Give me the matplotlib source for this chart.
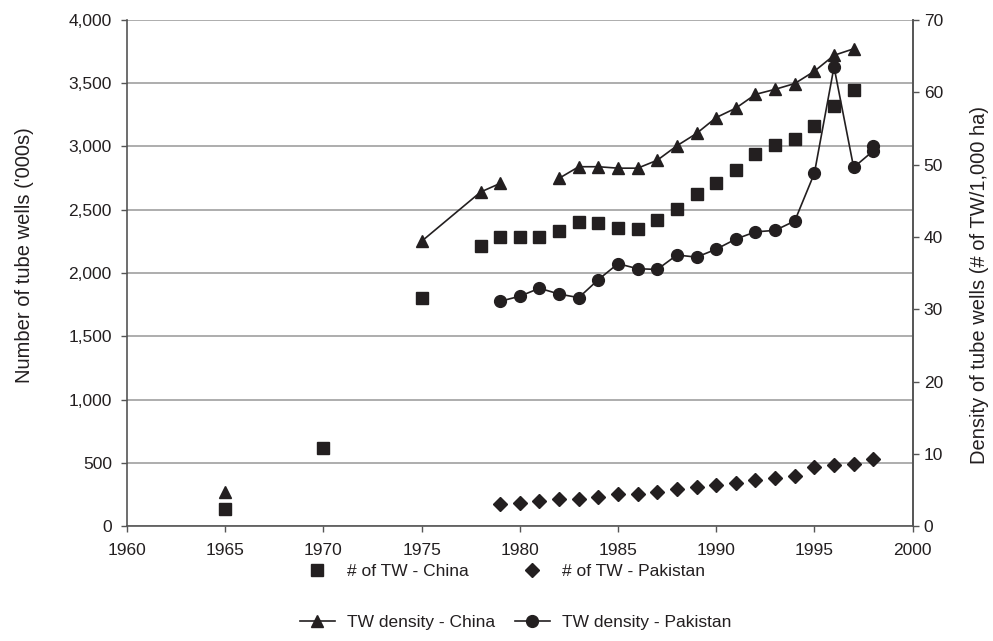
import numpy as np
import matplotlib
matplotlib.use("Agg")
import matplotlib.pyplot as plt
from matplotlib.lines import Line2D

plt.rcParams["font.family"] = ["Liberation Sans", "DejaVu Sans"]
plt.rcParams["font.size"] = 12.5

# Number of tube wells ('000s), China
china_tw_years = [1965, 1970, 1975, 1978, 1979, 1980, 1981, 1982, 1983, 1984, 1985, 1986,
                  1987, 1988, 1989, 1990, 1991, 1992, 1993, 1994, 1995, 1996, 1997]
china_tw = [140, 622, 1806, 2212, 2283, 2283, 2288, 2330, 2401, 2393, 2359, 2351,
            2419, 2509, 2621, 2715, 2818, 2944, 3009, 3057, 3160, 3318, 3444]

# Number of tube wells ('000s), Pakistan
pak_tw_years = list(range(1979, 1999))
pak_tw = [174, 187, 203, 213, 216, 232, 255, 258, 271, 298, 313, 329, 342, 363, 385,
          397, 468, 482, 490, 535]

# TW density (# of TW / 1,000 ha), China -- NaN where the series has gaps
china_dens_years = [1965, 1970, 1975, 1978, 1979, 1981, 1982, 1983, 1984, 1985, 1986,
                    1987, 1988, 1989, 1990, 1991, 1992, 1993, 1994, 1995, 1996, 1997]
china_dens = [4.7, np.nan, 39.4, 46.2, 47.4, np.nan, 48.1, 49.7, 49.7, 49.5, 49.5,
              50.6, 52.6, 54.3, 56.5, 57.8, 59.7, 60.4, 61.2, 62.9, 65.1, 66.0]

# TW density (# of TW / 1,000 ha), Pakistan
pak_dens_years = list(range(1979, 1999)) + [1998]
pak_dens = [31.1, 31.8, 32.9, 32.1, 31.6, 34.1, 36.3, 35.6, 35.5, 37.5, 37.2, 38.3,
            39.7, 40.7, 40.9, 42.2, 48.8, 63.5, 49.6, 51.9, 52.6]

ink = "#231f20"

fig = plt.figure(figsize=(9.93, 6.41), dpi=100)
ax = fig.add_axes([0.128, 0.179, 0.791, 0.790])
ax2 = ax.twinx()

ax.plot(china_tw_years, china_tw, ls="none", marker="s", ms=8, color=ink)
ax.plot(pak_tw_years, pak_tw, ls="none", marker="D", ms=7, color=ink)
ax2.plot(china_dens_years, china_dens, ls="-", lw=1.2, marker="^", ms=8, color=ink)
ax2.plot(pak_dens_years, pak_dens, ls="-", lw=1.2, marker="o", ms=8.5, color=ink)

ax.set_xlim(1960, 2000)
ax.set_ylim(0, 4000)
ax2.set_ylim(0, 70)
ax.set_xticks(range(1960, 2001, 5))
ax.set_yticks(range(0, 4001, 500))
ax.set_yticklabels([f"{v:,}" for v in range(0, 4001, 500)])
ax2.set_yticks(range(0, 71, 10))

ax.yaxis.grid(True, color="#a0a0a0", lw=1.2)
ax.set_axisbelow(True)

for a in (ax, ax2):
    a.spines["top"].set_visible(False)
    for s in ("left", "right", "bottom"):
        a.spines[s].set_color("#555555")
        a.spines[s].set_linewidth(1.2)
    a.tick_params(length=4, width=1.0, color="#555555", labelcolor=ink)
ax2.spines["left"].set_visible(False)
ax2.spines["bottom"].set_visible(False)
ax.tick_params(axis="x", pad=8)
ax.tick_params(axis="y", pad=7)
ax2.tick_params(axis="y", pad=4)

ax.set_ylabel("Number of tube wells ('000s)", color=ink, fontsize=14.5)
ax.yaxis.set_label_coords(-0.118, 0.536)
ax2.set_ylabel("Density of tube wells (# of TW/1,000 ha)", color=ink, fontsize=14.5)
ax2.yaxis.set_label_coords(1.0725, 0.476)

handles = [
    Line2D([], [], ls="none", marker="s", ms=8, color=ink),
    Line2D([], [], ls="-", lw=1.2, marker="^", ms=8, color=ink),
    Line2D([], [], ls="none", marker="D", ms=7, color=ink),
    Line2D([], [], ls="-", lw=1.2, marker="o", ms=8.5, color=ink),
]
labels = ["# of TW - China", "TW density - China", "# of TW - Pakistan", "TW density - Pakistan"]
fig.legend(handles, labels, ncol=2, loc="upper left", bbox_to_anchor=(300 / 993, 0.121),
           frameon=False, borderpad=0, borderaxespad=0, handlelength=2.0,
           handletextpad=0.7, columnspacing=1.15, labelspacing=2.08, labelcolor=ink)

fig.savefig("out.png", dpi=100)
